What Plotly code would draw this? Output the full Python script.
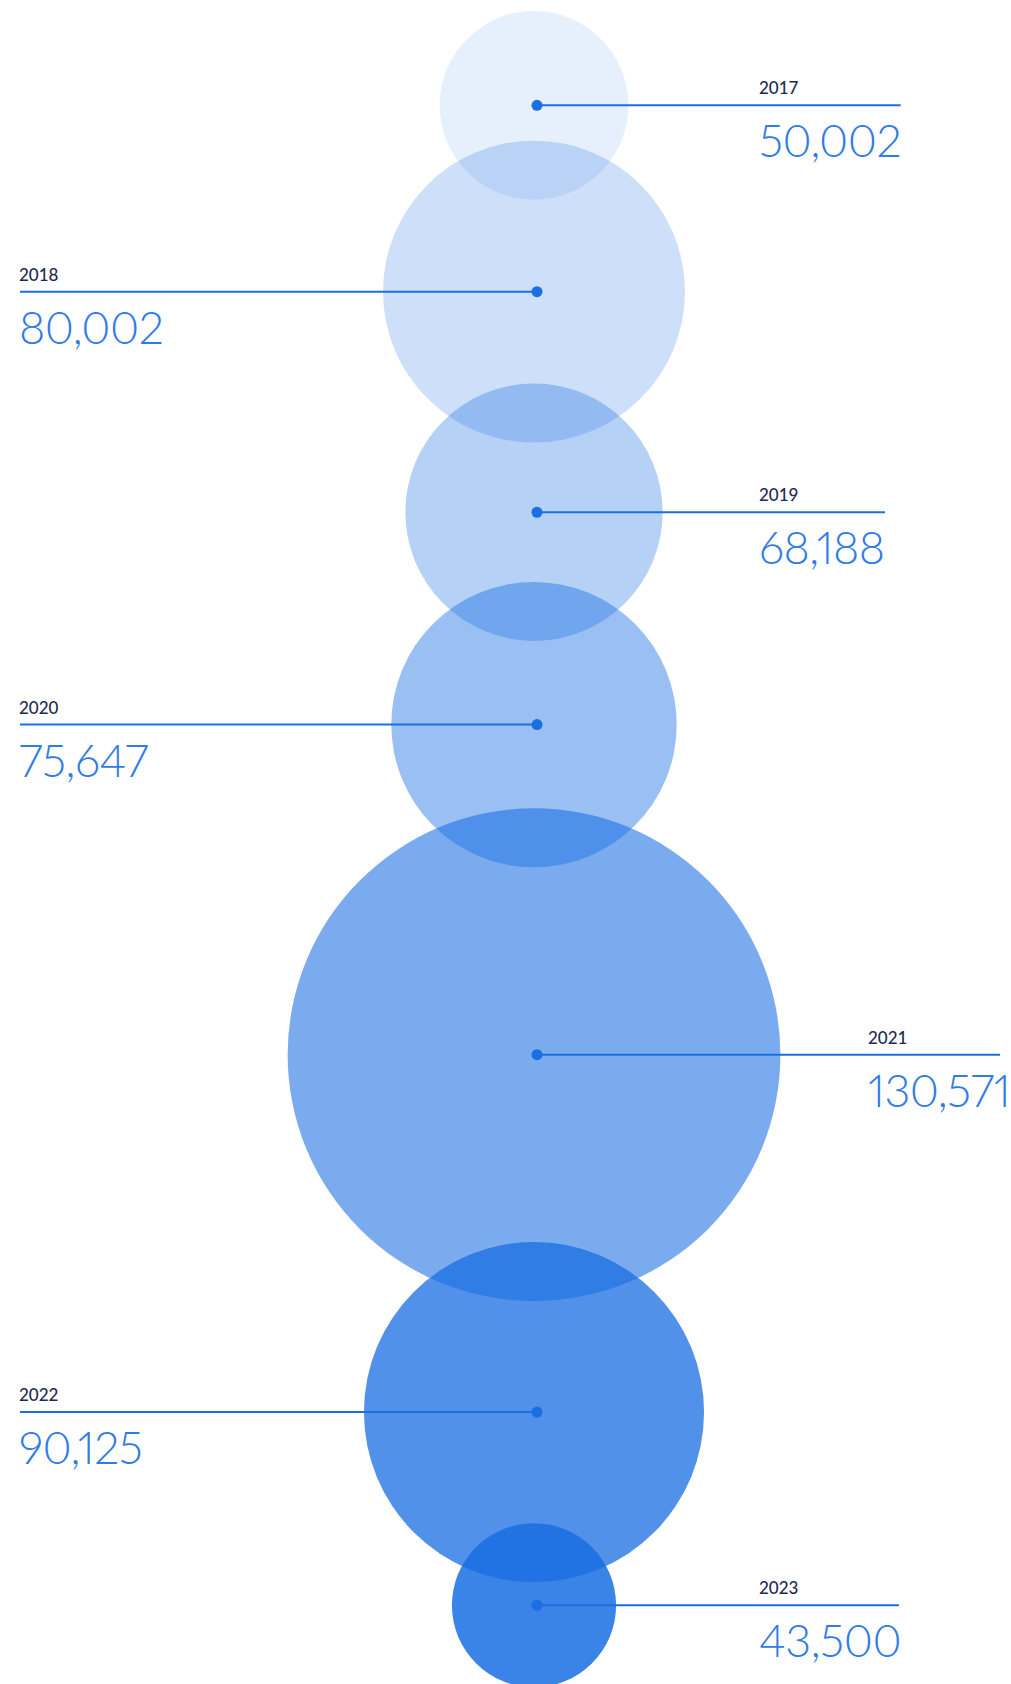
import plotly.graph_objects as go

# ---------------- data ----------------
years = ["2017", "2018", "2019", "2020", "2021", "2022", "2023"]
values = [50002, 80002, 68188, 75647, 130571, 90125, 43500]
value_labels = ["50,002", "80,002", "68,188", "75,647", "130,571", "90,125", "43,500"]
sides = ["right", "left", "right", "left", "right", "left", "right"]

# ---------------- style / layout ----------------
W, H = 1011, 1684
CX = 534            # circle centre x (px)
DOT_DX = 3          # dot offset from circle centre
TOP = 11            # top edge of first circle
OVERLAP = 59        # vertical overlap of consecutive circles
SIZEREF = 265.0     # value units per pixel of diameter
LEFT_X = 17
RIGHT_X = 757
RIGHT_GAP = 86
RIGHT_LIMIT = W - 11
BASE = (26, 111, 227)
ALPHAS = [0.11, 0.22, 0.32, 0.44, 0.58, 0.76, 0.86]
LINE_COLOR = "#1a6fe3"
VALUE_COLOR = "#2f7ce6"
YEAR_COLOR = "#23284f"
VAL_SIZE = 45
LETTER_SP = -0.5
YEAR_SIZE = 17
FONT = "Lato"

# approximate advance widths (em) of the value font (proportional figures)
ADV = {"0": 0.62, "1": 0.38, "2": 0.54, "3": 0.54, "4": 0.58, "5": 0.54,
       "6": 0.56, "7": 0.52, "8": 0.55, "9": 0.56, ",": 0.22}


def text_width(s, size):
    return sum(ADV.get(ch, 0.58) for ch in s) * size + (len(s) - 1) * LETTER_SP


radii = [v / SIZEREF / 2 for v in values]
cy = []
for i, r in enumerate(radii):
    if i == 0:
        cy.append(TOP + r)
    else:
        cy.append(cy[-1] + radii[i - 1] + r - OVERLAP)

fig = go.Figure()

# circles
fig.add_trace(go.Scatter(
    x=[CX] * len(values), y=cy, mode="markers",
    marker=dict(size=values, sizemode="diameter", sizeref=SIZEREF, opacity=1,
                color=[f"rgba({BASE[0]},{BASE[1]},{BASE[2]},{a})" for a in ALPHAS],
                line=dict(width=0)),
    hoverinfo="skip", showlegend=False))

# leader lines
lx, ly = [], []
annotations = []
for i in range(len(values)):
    dx = CX + DOT_DX
    y = cy[i]
    if sides[i] == "right":
        x0 = max(RIGHT_X, CX + radii[i] + RIGHT_GAP)
        x1 = min(x0 + 4 + text_width(value_labels[i], VAL_SIZE), RIGHT_LIMIT)
        lx += [dx, x1, None]
        tx = x0
    else:
        lx += [LEFT_X + 3, dx, None]
        tx = LEFT_X
    ly += [y, y, None]
    annotations.append(dict(x=tx, y=y - 17.5, xref="x", yref="y", text=years[i],
                            showarrow=False, xanchor="left", yanchor="middle",
                            font=dict(family=FONT, size=YEAR_SIZE, color=YEAR_COLOR, weight=500)))
    annotations.append(dict(
        x=tx, y=y + 35, xref="x", yref="y",
        text=(f'<span style="font-variant-numeric:proportional-nums;'
              f'letter-spacing:{LETTER_SP}px">{value_labels[i]}</span>'),
        showarrow=False, xanchor="left", yanchor="middle",
        font=dict(family=FONT, size=VAL_SIZE, color=VALUE_COLOR, weight=300)))

fig.add_trace(go.Scatter(x=lx, y=ly, mode="lines",
                         line=dict(color=LINE_COLOR, width=2),
                         hoverinfo="skip", showlegend=False))

# dots
fig.add_trace(go.Scatter(x=[CX + DOT_DX] * len(values), y=cy, mode="markers",
                         marker=dict(size=11, color=LINE_COLOR, opacity=1, line=dict(width=0)),
                         hoverinfo="skip", showlegend=False))

fig.update_layout(
    width=W, height=H, margin=dict(l=0, r=0, t=0, b=0),
    paper_bgcolor="white", plot_bgcolor="white",
    xaxis=dict(range=[0, W], visible=False, fixedrange=True),
    yaxis=dict(range=[H, 0], visible=False, fixedrange=True),
    annotations=annotations, showlegend=False,
)

fig.write_html("out.html", config={"displayModeBar": False},
               post_script="document.body.style.margin='0px';document.body.style.overflow='hidden';")
